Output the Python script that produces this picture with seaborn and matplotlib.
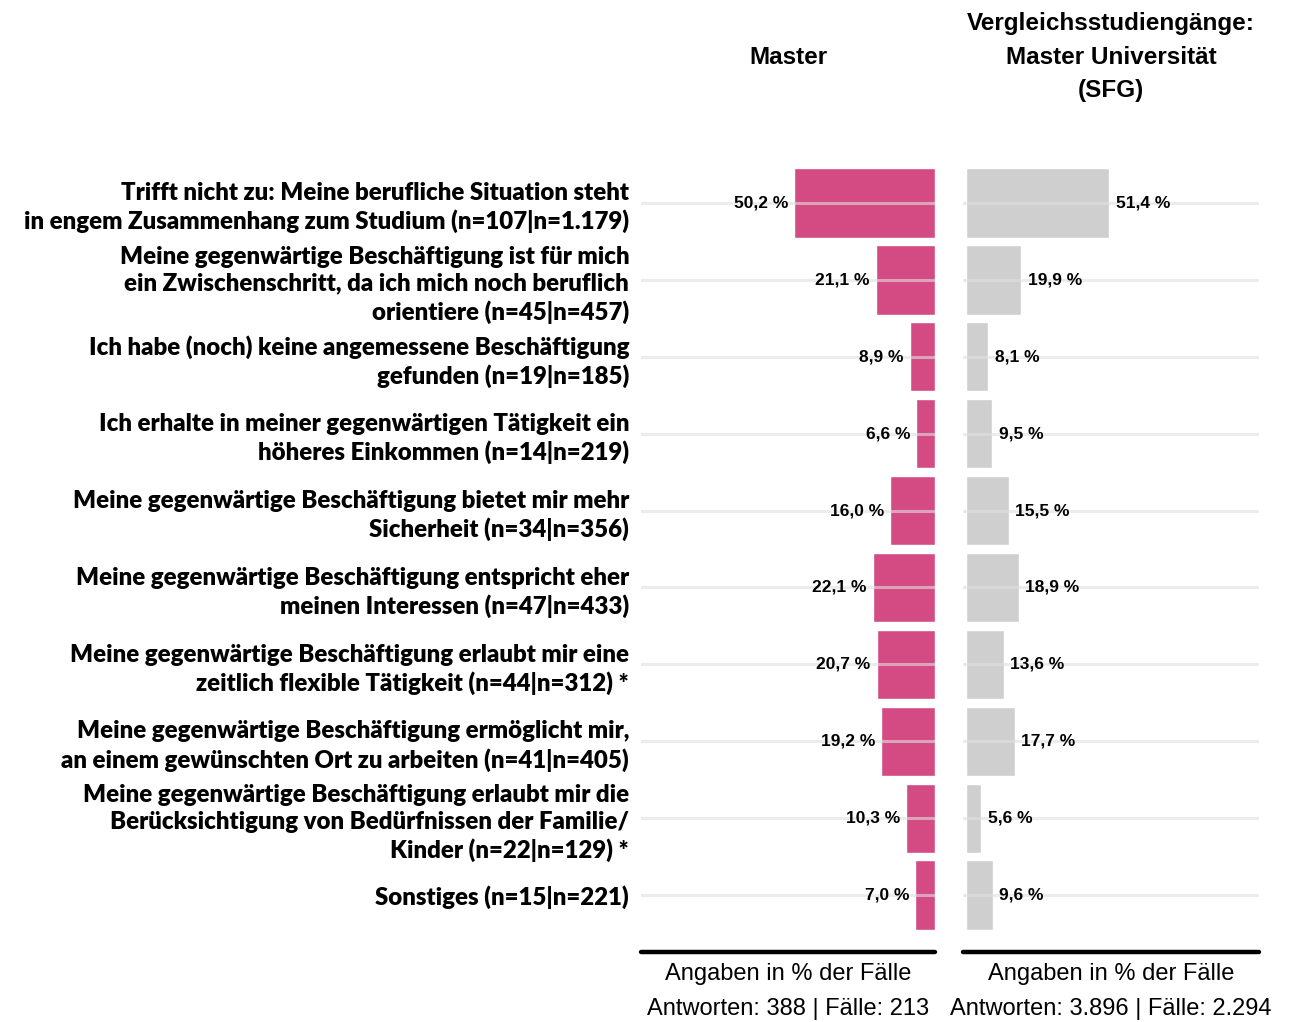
import matplotlib
matplotlib.use("Agg")
import matplotlib.pyplot as plt
import seaborn as sns
import pandas as pd

categories = [
    "Trifft nicht zu: Meine berufliche Situation steht\nin engem Zusammenhang zum Studium (n=107|n=1.179)",
    "Meine gegenwärtige Beschäftigung ist für mich\nein Zwischenschritt, da ich mich noch beruflich\norientiere (n=45|n=457)",
    "Ich habe (noch) keine angemessene Beschäftigung\ngefunden (n=19|n=185)",
    "Ich erhalte in meiner gegenwärtigen Tätigkeit ein\nhöheres Einkommen (n=14|n=219)",
    "Meine gegenwärtige Beschäftigung bietet mir mehr\nSicherheit (n=34|n=356)",
    "Meine gegenwärtige Beschäftigung entspricht eher\nmeinen Interessen (n=47|n=433)",
    "Meine gegenwärtige Beschäftigung erlaubt mir eine\nzeitlich flexible Tätigkeit (n=44|n=312) *",
    "Meine gegenwärtige Beschäftigung ermöglicht mir,\nan einem gewünschten Ort zu arbeiten (n=41|n=405)",
    "Meine gegenwärtige Beschäftigung erlaubt mir die\nBerücksichtigung von Bedürfnissen der Familie/\nKinder (n=22|n=129) *",
    "Sonstiges (n=15|n=221)",
]
master_values = [50.2, 21.1, 8.9, 6.6, 16.0, 22.1, 20.7, 19.2, 10.3, 7.0]
sfg_values = [51.4, 19.9, 8.1, 9.5, 15.5, 18.9, 13.6, 17.7, 5.6, 9.6]

panel_titles = ["Master", "Vergleichsstudiengänge:\nMaster Universität\n(SFG)"]
axis_notes = ["Angaben in % der Fälle", "Angaben in % der Fälle"]
count_notes = ["Antworten: 388 | Fälle: 213", "Antworten: 3.896 | Fälle: 2.294"]

MAGENTA = "#D44B83"
GREY = "#CFCFCF"
GRID = "#E0E0E0"

sns.set_theme(style="white")
plt.rcParams["font.family"] = ["Liberation Sans", "DejaVu Sans"]
plt.rcParams["text.color"] = "black"

df = pd.DataFrame({"cat": categories, "master": master_values, "sfg": sfg_values})

fig = plt.figure(figsize=(12.91, 10.22), dpi=100)
ax_l = fig.add_axes([0.4965, 0.0685, 0.2277, 0.770])
ax_r = fig.add_axes([0.7459, 0.0685, 0.2293, 0.770])

sns.barplot(data=df, y="cat", x="master", ax=ax_l, color=MAGENTA, saturation=1,
            width=0.9, orient="h")
sns.barplot(data=df, y="cat", x="sfg", ax=ax_r, color=GREY, saturation=1,
            width=0.9, orient="h")


def pct(v):
    return f"{v:.1f} %".replace(".", ",")


for ax, vals, sign in [(ax_l, master_values, -1), (ax_r, sfg_values, 1)]:
    for sp in ["top", "left", "right"]:
        ax.spines[sp].set_visible(False)
    ax.spines["bottom"].set_color("black")
    ax.spines["bottom"].set_linewidth(3.2)
    ax.spines["bottom"].set_capstyle("round")
    ax.set_ylim(9.741, -0.494)
    ax.set_xlabel("")
    ax.set_ylabel("")
    ax.set_xticks([])
    ax.set_axisbelow(False)
    ax.yaxis.grid(True, color=GRID, linewidth=2.2, alpha=0.6, zorder=5)
    ax.xaxis.grid(False)
    for i, v in enumerate(vals):
        ax.annotate(pct(v), xy=(v, i), xytext=(sign * 4.5, 0),
                    textcoords="offset points",
                    ha="left" if sign > 0 else "right", va="center",
                    fontsize=12.5, fontweight="bold", color="black", zorder=6)

ax_l.set_xlim(105, 0)
ax_r.set_xlim(-1, 105)
ax_r.set_yticks(range(len(categories)))
ax_r.set_yticklabels([])
ax_r.tick_params(axis="y", length=0)

ax_l.tick_params(axis="y", length=0, pad=8.5)
ax_l.set_yticks(range(len(categories)))
ax_l.set_yticklabels(categories, fontsize=17.3, fontweight="heavy", color="black",
                     family=["Lato", "DejaVu Sans"], linespacing=1.28)

for ax, title, note, count in zip([ax_l, ax_r], panel_titles, axis_notes, count_notes):
    cx = ax.get_position().x0 + ax.get_position().width / 2
    fig.text(cx, 1 - 57 / 1022, title, ha="center", va="center",
             fontsize=17.5, fontweight="bold", linespacing=1.6, color="black")
    fig.text(cx, 1 - 974 / 1022, note, ha="center", va="center", fontsize=17,
             color="black")
    fig.text(cx, 1 - 1009 / 1022, count, ha="center", va="center", fontsize=17,
             color="black")

fig.savefig("out.png", dpi=100, facecolor="white")
